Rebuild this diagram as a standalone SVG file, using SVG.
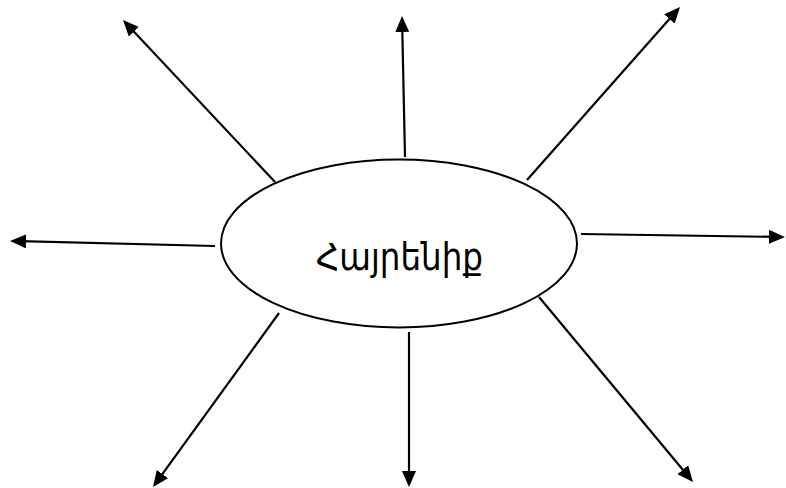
<svg xmlns="http://www.w3.org/2000/svg" width="786" height="488" viewBox="0 0 786 488">
<defs>
<marker id="ah" viewBox="0 0 16 14" refX="6" refY="7" markerWidth="16" markerHeight="14" markerUnits="userSpaceOnUse" orient="auto">
<path d="M0,0 L16,7 L0,14 z" fill="#000"/>
</marker>
<style>
.c line{stroke:#000;stroke-width:2.2;fill:none;marker-end:url(#ah)}
.n ellipse{fill:#fff;stroke:#000;stroke-width:2}
.n text{font-family:"DejaVu Sans","Noto Sans",sans-serif;font-size:37px;fill:#000}
</style>
</defs>
<rect width="786" height="488" fill="#fff"/>
<g id="connectors" class="c">
<line x1="275" y1="182" x2="129.8" y2="27.3"/>
<line x1="405" y1="157" x2="402.2" y2="26"/>
<line x1="527" y1="180" x2="673.4" y2="14.5"/>
<line x1="215" y1="246" x2="20" y2="241.2"/>
<line x1="581" y1="234" x2="775" y2="236.9"/>
<line x1="279" y1="313" x2="158.9" y2="478.9"/>
<line x1="409" y1="332" x2="409" y2="477"/>
<line x1="539" y1="297" x2="686.6" y2="474.3"/>
</g>
<g id="node-hayrenik" class="n">
<ellipse cx="399" cy="243.5" rx="178" ry="84"/>
<text x="316" y="270" textLength="167" lengthAdjust="spacingAndGlyphs">Հայրենիք</text>
</g>
</svg>
